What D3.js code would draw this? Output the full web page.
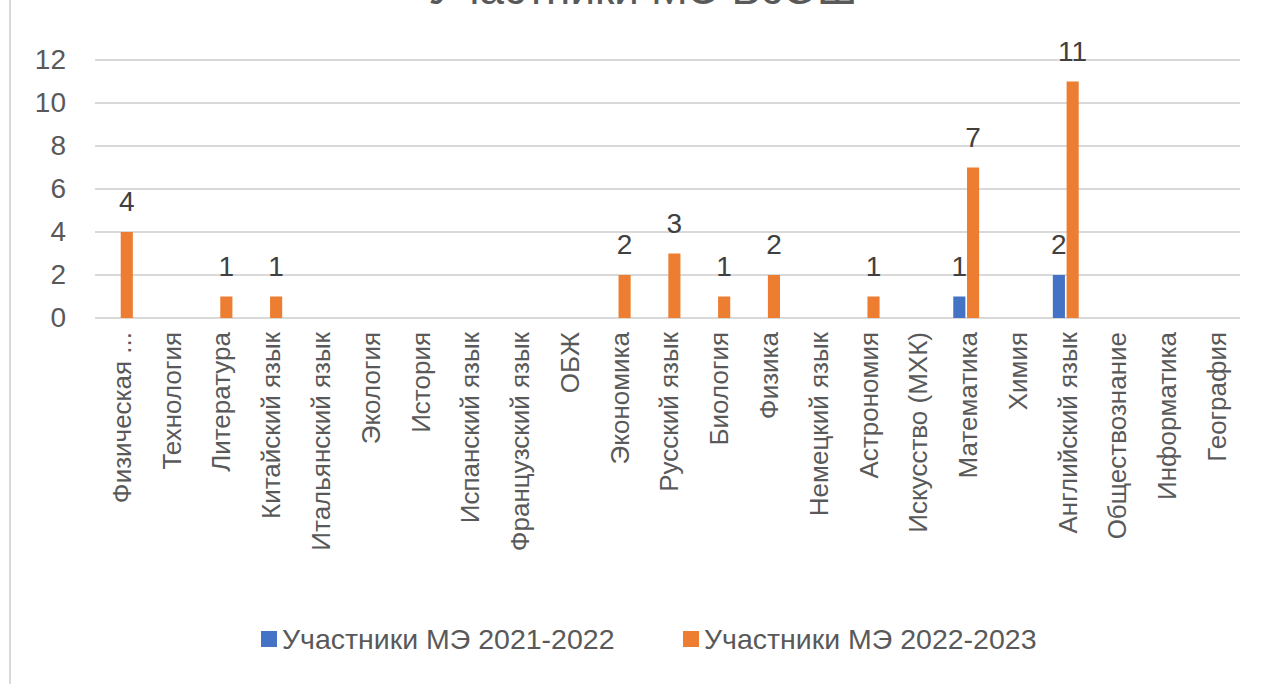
<!DOCTYPE html>
<html><head><meta charset="utf-8">
<script src="https://cdn.jsdelivr.net/npm/d3@7"></script>
<style>
html,body{margin:0;padding:0;background:#fff;}
text{font-family:"Liberation Sans",Arial,sans-serif;}
</style></head>
<body><svg id="c" width="1266" height="684"></svg>
<script>
const categories = ["Физическая ...","Технология","Литература","Китайский язык","Итальянский язык","Экология","История","Испанский язык","Французский язык","ОБЖ","Экономика","Русский язык","Биология","Физика","Немецкий язык","Астрономия","Искусство (МХК)","Математика","Химия","Английский язык","Обществознание","Информатика","География"];
const seriesNames = ["Участники МЭ 2021-2022","Участники МЭ 2022-2023"];
const values2021 = [0,0,0,0,0,0,0,0,0,0,0,0,0,0,0,0,0,1,0,2,0,0,0];
const values2022 = [4,0,1,1,0,0,0,0,0,0,2,3,1,2,0,1,0,7,0,11,0,0,0];
const yTicks = [0,2,4,6,8,10,12];
const colors = ["#4472C4","#ED7D31"];
const title = "Участники МЭ ВсОШ";

const svg = d3.select("#c");
svg.append("rect").attr("width",1266).attr("height",684).attr("fill","#fff");
svg.append("line").attr("x1",10).attr("x2",10).attr("y1",0).attr("y2",684)
  .attr("stroke","#d9d9d9").attr("stroke-width",2);

svg.append("text").attr("x",643).attr("y",4).attr("text-anchor","middle")
  .attr("font-size",44).attr("fill","#595959").text(title);

const x = d3.scaleBand().domain(categories).range([95,1240]).paddingInner(0.48).paddingOuter(0.24);
const x1 = d3.scaleBand().domain(seriesNames).range([0,x.bandwidth()]).paddingInner(0.12);
const y = d3.scaleLinear().domain([0,12]).range([318,60]);

const grid = svg.append("g");
grid.selectAll("line").data(yTicks).join("line")
  .attr("x1",95).attr("x2",1240).attr("y1",d=>y(d)).attr("y2",d=>y(d))
  .attr("stroke","#d9d9d9").attr("stroke-width",2);

const yAxis = svg.append("g").attr("transform","translate(66,0)")
  .call(d3.axisLeft(y).tickValues(yTicks).tickSize(0).tickPadding(0));
yAxis.select(".domain").remove();
yAxis.selectAll("text").attr("font-size",28).attr("fill","#595959")
  .attr("font-family","Liberation Sans, Arial, sans-serif");

const data = categories.map((c,i)=>({cat:c, vals:[values2021[i], values2022[i]]}));
const groups = svg.append("g").selectAll("g").data(data).join("g")
  .attr("transform",d=>`translate(${x(d.cat)},0)`);
groups.selectAll("rect").data(d=>d.vals.map((v,j)=>({v,j}))).join("rect")
  .attr("x",d=>x1(seriesNames[d.j])).attr("width",x1.bandwidth())
  .attr("y",d=>y(d.v)).attr("height",d=>y(0)-y(d.v)).attr("fill",d=>colors[d.j]);
groups.selectAll("text").data(d=>d.vals.map((v,j)=>({v,j})).filter(e=>e.v>0)).join("text")
  .attr("x",d=>x1(seriesNames[d.j])+x1.bandwidth()/2).attr("y",d=>y(d.v)-21)
  .attr("text-anchor","middle").attr("font-size",28).attr("fill","#404040").text(d=>d.v);

const xAxis = svg.append("g").attr("transform","translate(0,318)")
  .call(d3.axisBottom(x).tickSize(0).tickPadding(0));
xAxis.select(".domain").remove();
xAxis.selectAll("text")
  .attr("transform","translate(0,14) rotate(-90)")
  .attr("text-anchor","end").attr("x",0).attr("y",0).attr("dy","0.42em")
  .attr("font-size",26).attr("fill","#595959")
  .attr("font-family","Liberation Sans, Arial, sans-serif");

const legendX = [261, 683];
const lg = svg.append("g").selectAll("g").data(seriesNames).join("g")
  .attr("transform",(d,i)=>`translate(${legendX[i]},639)`);
lg.append("rect").attr("x",0).attr("y",-8).attr("width",16).attr("height",16).attr("fill",(d,i)=>colors[i]);
lg.append("text").attr("x",21).attr("y",0).attr("dy","0.35em").attr("font-size",28.5)
  .attr("fill","#595959").text(d=>d);
</script></body></html>
